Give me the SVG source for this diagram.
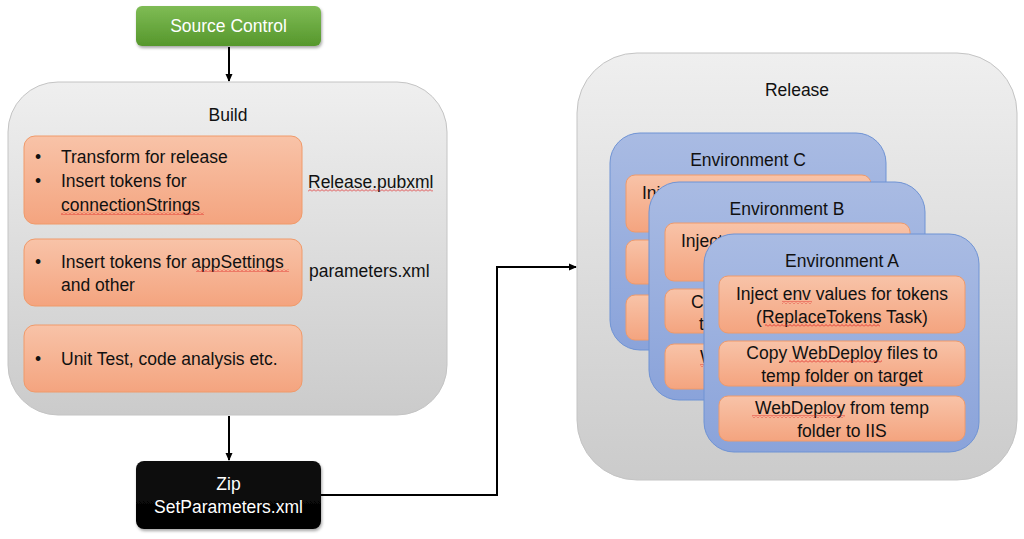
<svg xmlns="http://www.w3.org/2000/svg" width="1024" height="539" viewBox="0 0 1024 539">
<style>
text{font-family:"Liberation Sans",Arial,sans-serif;font-size:17.5px;fill:#111}
.w{fill:#fff}
.c{text-anchor:middle}
.cont{fill:url(#gGray);stroke:#c4c4c4;stroke-width:1}
.ob{fill:url(#gOrange);stroke:#f09a6a;stroke-width:1}
.env{fill:url(#gBlue);stroke:#6f93d4;stroke-width:1}
.conn{fill:none;stroke:#000;stroke-width:2}
.sq{fill:url(#wave)}
</style>
<defs>
<linearGradient id="gGray" x1="0" y1="0" x2="0" y2="1"><stop offset="0" stop-color="#efefef"/><stop offset="1" stop-color="#cbcbcb"/></linearGradient>
<linearGradient id="gOrange" x1="0" y1="0" x2="0" y2="1"><stop offset="0" stop-color="#f8c3a8"/><stop offset="1" stop-color="#f4a47f"/></linearGradient>
<linearGradient id="gBlue" x1="0" y1="0" x2="0" y2="1"><stop offset="0" stop-color="#a9bbe3"/><stop offset="1" stop-color="#8aa3da"/></linearGradient>
<linearGradient id="gGreen" x1="0" y1="0" x2="0" y2="1"><stop offset="0" stop-color="#7fbc55"/><stop offset="1" stop-color="#56972c"/></linearGradient>
<linearGradient id="gBlack" x1="0" y1="0" x2="0" y2="1"><stop offset="0" stop-color="#111"/><stop offset="1" stop-color="#000"/></linearGradient>
<filter id="sh" x="-10%" y="-20%" width="120%" height="150%"><feDropShadow dx="1" dy="2" stdDeviation="1.5" flood-color="#000" flood-opacity="0.35"/></filter>
<marker id="arr" markerWidth="8" markerHeight="8" refX="7" refY="4" orient="auto" markerUnits="userSpaceOnUse"><path d="M0,0.5 L8,4 L0,7.5 Z" fill="#000"/></marker>
<pattern id="wave" width="4" height="3" patternUnits="userSpaceOnUse"><path d="M0,2.5 L2,0.5 L4,2.5" fill="none" stroke="#e02020" stroke-width="0.8"/></pattern>
<clipPath id="clipC"><path clip-rule="evenodd" d="M600,120 H1000 V500 H600 Z M679,182 H895 A30,30 0 0 1 925,212 V370 A30,30 0 0 1 895,400 H679 A30,30 0 0 1 649,370 V212 A30,30 0 0 1 679,182 Z"/></clipPath>
<clipPath id="clipB"><path clip-rule="evenodd" d="M600,120 H1000 V500 H600 Z M734,234 H949 A30,30 0 0 1 979,264 V422 A30,30 0 0 1 949,452 H734 A30,30 0 0 1 704,422 V264 A30,30 0 0 1 734,234 Z"/></clipPath>
</defs>

<g id="connectors">
<line class="conn" x1="229" y1="47" x2="229" y2="81" marker-end="url(#arr)"/>
<line class="conn" x1="229" y1="416" x2="229" y2="460" marker-end="url(#arr)"/>
<polyline class="conn" points="321,495 497,495 497,267 576,267" marker-end="url(#arr)"/>
</g>

<g id="source-control">
<rect x="136" y="6" width="185" height="40" rx="6" fill="url(#gGreen)" filter="url(#sh)"/>
<text class="w c" x="228.5" y="32">Source Control</text>
</g>

<g id="build">
<rect class="cont" x="8" y="82" width="439" height="333" rx="50"/>
<text class="c" x="228" y="121">Build</text>
</g>

<g id="build-step-1">
<rect class="ob" x="24" y="136" width="278" height="88" rx="11"/>
<text x="35" y="163">•</text><text x="61" y="163">Transform for release</text>
<text x="35" y="187">•</text><text x="61" y="187">Insert tokens for</text>
<text x="61" y="211">connectionStrings</text>
<rect class="sq" x="61" y="212" width="143" height="3"/>
</g>
<g id="label-release-pubxml">
<text x="308" y="188">Release.pubxml</text>
<rect class="sq" x="308" y="189" width="125" height="3"/>
</g>

<g id="build-step-2">
<rect class="ob" x="24" y="239" width="278" height="67" rx="11"/>
<text x="35" y="268">•</text><text x="61" y="268">Insert tokens for appSettings</text>
<rect class="sq" x="196" y="269" width="93" height="3"/>
<text x="61" y="291">and other</text>
</g>
<g id="label-parameters-xml">
<text x="309" y="277">parameters.xml</text>
</g>

<g id="build-step-3">
<rect class="ob" x="24" y="325" width="278" height="67" rx="11"/>
<text x="35" y="365">•</text><text x="61" y="365">Unit Test, code analysis etc.</text>
</g>

<g id="zip">
<rect x="136" y="461" width="185" height="68" rx="8" fill="url(#gBlack)" filter="url(#sh)"/>
<text class="w c" x="228.5" y="490">Zip</text>
<text class="w c" x="228.5" y="513">SetParameters.xml</text>
</g>

<g id="release">
<rect class="cont" x="577" y="53" width="440" height="427" rx="60"/>
<text class="c" x="797" y="96">Release</text>
</g>

<g id="environment-c">
<rect class="env" x="610" y="133" width="276" height="217" rx="30"/>
<text class="c" x="748" y="166">Environment C</text>
<rect class="ob" x="626" y="175" width="245" height="57" rx="9"/>
<g clip-path="url(#clipC)">
<text x="642" y="199">Inject</text>
</g>
<rect class="ob" x="626" y="240" width="245" height="44" rx="9"/>
<rect class="ob" x="626" y="295" width="245" height="45" rx="9"/>
</g>

<g id="environment-b">
<rect class="env" x="649" y="182" width="276" height="218" rx="30"/>
<text class="c" x="787" y="215">Environment B</text>
<rect class="ob" x="665" y="223" width="245" height="58" rx="9"/>
<g clip-path="url(#clipB)">
<text x="681" y="247">Inject</text>
</g>
<rect class="ob" x="665" y="289" width="245" height="44" rx="9"/>
<g clip-path="url(#clipB)">
<text x="691" y="308">Copy</text>
<text x="699" y="330">temp</text>
</g>
<rect class="ob" x="665" y="344" width="245" height="45" rx="9"/>
<g clip-path="url(#clipB)">
<text x="700" y="363">Web</text>
<rect class="sq" x="700" y="364" width="36" height="3"/>
</g>
</g>

<g id="environment-a">
<rect class="env" x="704" y="234" width="275" height="218" rx="30"/>
<text class="c" x="842" y="267">Environment A</text>
<rect class="ob" x="719" y="276" width="246" height="57" rx="9"/>
<text class="c" x="842" y="300">Inject env values for tokens</text>
<rect class="sq" x="782" y="301" width="30" height="3"/>
<text class="c" x="842" y="323">(ReplaceTokens Task)</text>
<rect class="sq" x="765" y="324" width="115" height="3"/>
<rect class="ob" x="719" y="341" width="246" height="45" rx="9"/>
<text class="c" x="842" y="359">Copy WebDeploy files to</text>
<rect class="sq" x="789" y="360" width="93" height="3"/>
<text class="c" x="842" y="382">temp folder on target</text>
<rect class="ob" x="719" y="396" width="246" height="45" rx="9"/>
<text class="c" x="842" y="414">WebDeploy from temp</text>
<rect class="sq" x="752" y="415" width="93" height="3"/>
<text class="c" x="842" y="437">folder to IIS</text>
</g>
</svg>
